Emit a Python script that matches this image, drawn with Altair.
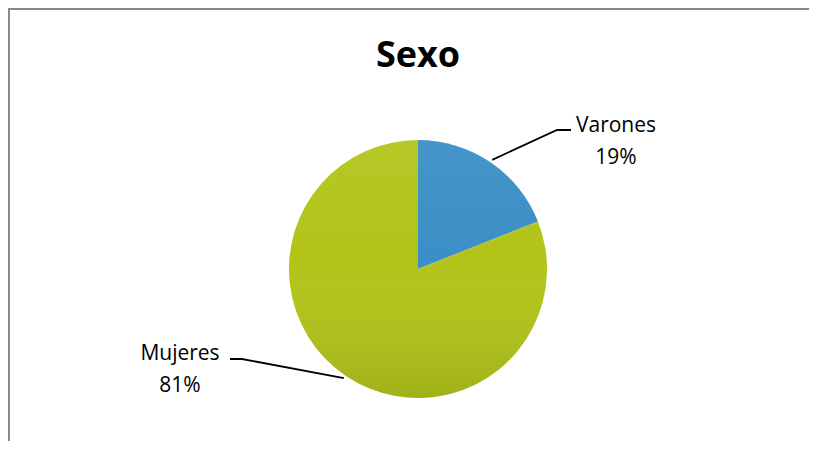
import math
import altair as alt
import pandas as pd

# ---- data ----
categorias = ["Varones", "Mujeres"]
porcentajes = [19, 81]
colores = ["#3A8FC6", "#B2C41A"]
titulo = "Sexo"

# ---- layout (pixels inside the SVG) ----
W, H = 801, 433
CX, CY, R = 410, 261, 129
FONT = "Open Sans"

# label layout: elbow of leader line, end of leader line, label centre / first baseline
codos = {"Varones": (549, 122), "Mujeres": (234, 351)}
finales = {"Varones": (563, 122), "Mujeres": (222, 351)}
etiquetas_pos = {"Varones": (608, 124), "Mujeres": (172, 352)}
INTERLINEA = 32

pie_df = pd.DataFrame({"categoria": categorias, "valor": porcentajes,
                       "orden": list(range(len(categorias)))})

# leader lines computed from the slice mid angles
total = sum(porcentajes)
filas_lineas = []
filas_texto = []
acum = 0
for cat, val in zip(categorias, porcentajes):
    medio = (acum + val / 2) / total * 2 * math.pi
    acum += val
    px = CX + (R + 3) * math.sin(medio)
    py = CY - (R + 3) * math.cos(medio)
    filas_lineas += [
        {"categoria": cat, "paso": 0, "x": px, "y": py},
        {"categoria": cat, "paso": 1, "x": codos[cat][0], "y": codos[cat][1]},
        {"categoria": cat, "paso": 2, "x": finales[cat][0], "y": finales[cat][1]},
    ]
    tx, ty = etiquetas_pos[cat]
    filas_texto += [
        {"texto": cat, "x": tx, "y": ty},
        {"texto": f"{val}%", "x": tx, "y": ty + INTERLINEA},
    ]
lineas_df = pd.DataFrame(filas_lineas)
texto_df = pd.DataFrame(filas_texto)

pie = alt.Chart(pie_df).mark_arc(radius=R).encode(
    theta=alt.Theta("valor:Q", stack=True),
    order=alt.Order("orden:Q"),
    color=alt.Color("categoria:N", scale=alt.Scale(domain=categorias, range=colores), legend=None),
    x=alt.value(CX),
    y=alt.value(CY),
)

sombra = alt.Chart(pd.DataFrame({"v": [1]})).mark_arc(
    radius=R,
    fill=alt.Gradient(
        gradient="linear", x1=0, x2=0, y1=0, y2=1,
        stops=[
            alt.GradientStop(color="rgba(255,255,255,0.06)", offset=0),
            alt.GradientStop(color="rgba(255,255,255,0)", offset=0.45),
            alt.GradientStop(color="rgba(0,0,0,0.10)", offset=1),
        ],
    ),
).encode(theta=alt.value(0), theta2=alt.value(2 * math.pi), x=alt.value(CX), y=alt.value(CY))

lineas = alt.Chart(lineas_df).mark_line(color="black", strokeWidth=1.8).encode(
    x=alt.X("x:Q", scale=None, axis=None),
    y=alt.Y("y:Q", scale=None, axis=None),
    detail="categoria:N",
    order="paso:Q",
)

textos = alt.Chart(texto_df).mark_text(
    font=FONT, fontSize=21, color="#000000", align="center", baseline="alphabetic"
).encode(
    x=alt.X("x:Q", scale=None, axis=None),
    y=alt.Y("y:Q", scale=None, axis=None),
    text="texto:N",
)

titulo_mark = alt.Chart(pd.DataFrame({"t": [titulo]})).mark_text(
    font=FONT, fontSize=36, fontWeight="bold", color="#000000", align="center", baseline="alphabetic"
).encode(x=alt.value(CX), y=alt.value(59), text="t:N")

borde_sup = alt.Chart(pd.DataFrame({"v": [0]})).mark_rule(color="#898989", strokeWidth=2).encode(
    x=alt.value(0), x2=alt.value(W), y=alt.value(1)
)
borde_izq = alt.Chart(pd.DataFrame({"v": [0]})).mark_rule(color="#898989", strokeWidth=2).encode(
    x=alt.value(1), y=alt.value(0), y2=alt.value(H)
)

chart = alt.layer(pie, sombra, lineas, textos, titulo_mark, borde_sup, borde_izq).properties(
    width=W, height=H, padding=0, autosize=alt.AutoSizeParams(type="none"), background="white"
).configure_view(strokeWidth=0)

chart.save("out.html", embed_options={"renderer": "svg", "actions": False})
